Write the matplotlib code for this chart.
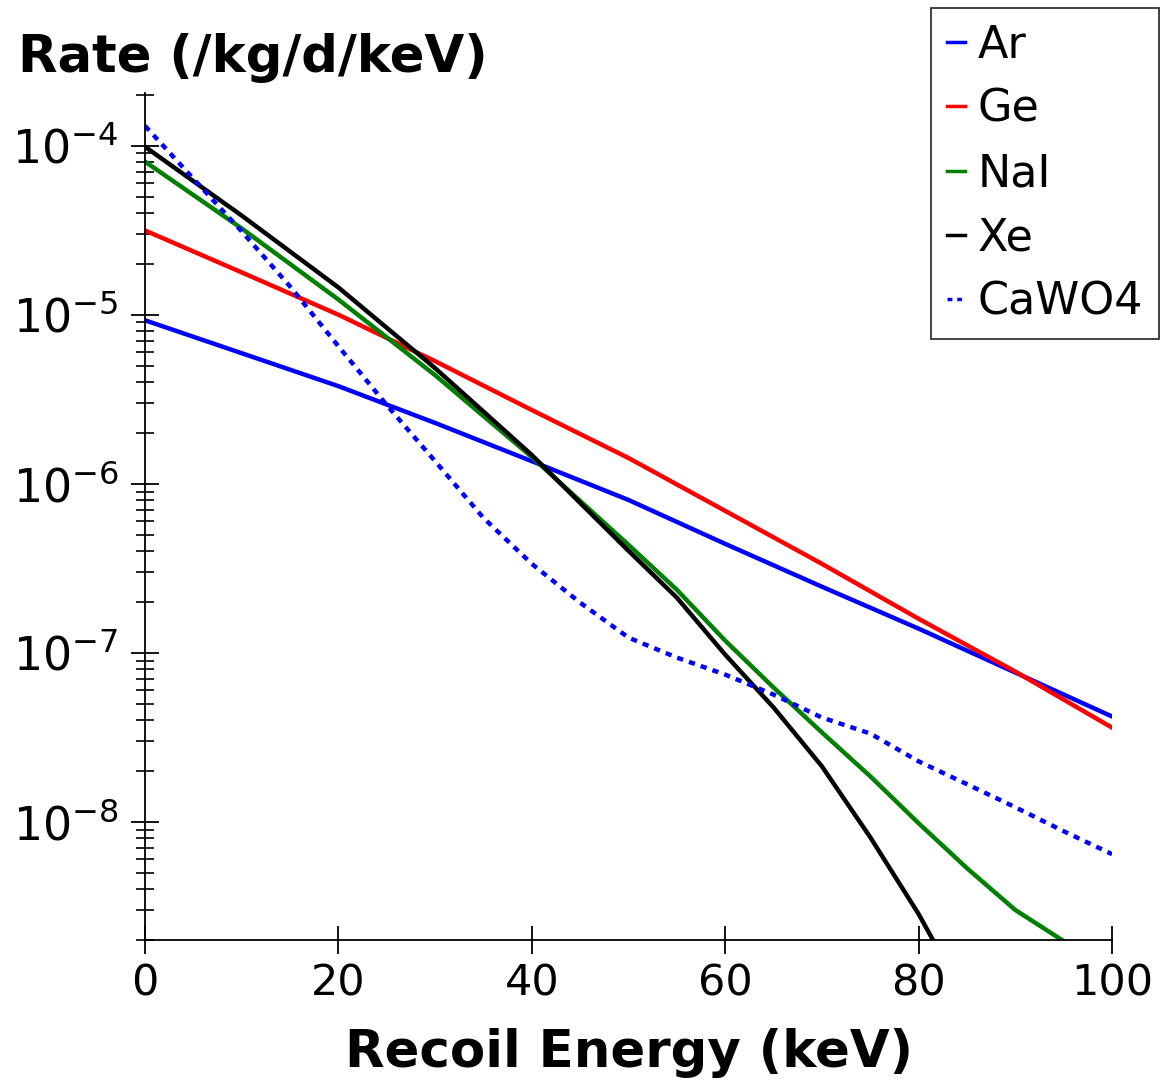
import matplotlib
matplotlib.use("Agg")
import matplotlib.pyplot as plt
from matplotlib.ticker import LogLocator, NullFormatter, FixedLocator

# recoil energy (keV) and rates (/kg/d/keV)
energy = [0, 10, 20, 30, 40, 50, 60, 70, 80, 90, 100]
ar = [9.27e-6, 5.92e-6, 3.78e-6, 2.29e-6, 1.36e-6, 8.02e-7, 4.41e-7, 2.46e-7, 1.39e-7, 7.64e-8, 4.20e-8]
ge = [3.15e-5, 1.78e-5, 1.00e-5, 5.31e-6, 2.73e-6, 1.42e-6, 6.91e-7, 3.36e-7, 1.59e-7, 7.74e-8, 3.61e-8]

energy_nai = [0, 10, 20, 30, 40, 50, 55, 60, 65, 70, 75, 80, 85, 90, 95]
nai = [8.05e-5, 3.24e-5, 1.23e-5, 4.39e-6, 1.44e-6, 4.35e-7, 2.36e-7, 1.18e-7, 6.23e-8, 3.38e-8,
       1.86e-8, 9.81e-9, 5.32e-9, 3.01e-9, 1.97e-9]

energy_xe = [0, 10, 20, 30, 40, 50, 55, 60, 65, 70, 75, 80, 82]
xe = [9.86e-5, 3.86e-5, 1.45e-5, 4.83e-6, 1.48e-6, 4.01e-7, 2.12e-7, 9.75e-8, 4.75e-8, 2.13e-8,
      8.11e-9, 2.85e-9, 1.77e-9]

energy_cawo4 = [0, 5, 10, 15, 20, 25, 30, 35, 40, 45, 50, 55, 60, 65, 70, 75, 80, 85, 90, 95, 100]
cawo4 = [1.31e-4, 6.38e-5, 3.11e-5, 1.47e-5, 6.51e-6, 2.92e-6, 1.36e-6, 6.28e-7, 3.36e-7, 1.98e-7,
         1.23e-7, 9.37e-8, 7.43e-8, 5.66e-8, 4.14e-8, 3.33e-8, 2.28e-8, 1.67e-8, 1.22e-8, 8.80e-9, 6.44e-9]

plt.rcParams['font.family'] = ['DejaVu Sans']
plt.rcParams['mathtext.fontset'] = 'dejavusans'

fig = plt.figure(figsize=(11.62, 10.82), dpi=100)
ax = fig.add_axes([145/1162, 1 - 940/1082, (1112-145)/1162, (940-93)/1082])

lw = 3.2
ax.plot(energy, ar, color='#0000ff', lw=lw, label='Ar')
ax.plot(energy, ge, color='#ff0000', lw=lw, label='Ge')
ax.plot(energy_nai, nai, color='#008000', lw=lw, label='NaI')
ax.plot(energy_xe, xe, color='black', lw=lw, label='Xe')
ax.plot(energy_cawo4, cawo4, color='#0000ff', lw=lw, ls=(0, (1.4, 1.4)), label='CaWO4')

ax.set_yscale('log')
ax.set_xlim(0, 100)
ax.set_ylim(2e-9, 2.05e-4)
ax.xaxis.set_major_locator(FixedLocator([0, 20, 40, 60, 80, 100]))
ax.yaxis.set_major_locator(LogLocator(base=10, numticks=20))
ax.yaxis.set_minor_locator(LogLocator(base=10, subs=range(2, 10), numticks=50))
ax.yaxis.set_minor_formatter(NullFormatter())

for s in ['top', 'right']:
    ax.spines[s].set_visible(False)
for s in ['left', 'bottom']:
    ax.spines[s].set_linewidth(1.3)

ax.tick_params(which='major', direction='inout', length=20, width=1.3, labelsize=31, pad=6)
ax.tick_params(which='minor', direction='inout', length=13, width=1.2)
ax.tick_params(axis='y', which='major', labelsize=33, pad=9)
ax.tick_params(axis='x', which='minor', bottom=False)

fig.text(18/1162, 1 - 72/1082, 'Rate (/kg/d/keV)', fontsize=37, fontweight='bold', va='baseline', ha='left')
ax.set_xlabel('Recoil Energy (keV)', fontsize=37, fontweight='bold', labelpad=17)

leg = fig.legend(loc='upper right', bbox_to_anchor=(1159/1162, 1 - 8/1082), fontsize=32,
                 frameon=True, fancybox=False, edgecolor='black', handlelength=0.4,
                 handletextpad=0.3, labelspacing=0.48, borderpad=0.35, borderaxespad=0)
leg.get_frame().set_linewidth(1.3)
for h in leg.get_lines():
    h.set_linewidth(2.5)

fig.savefig('out.png', dpi=100, facecolor='white')
